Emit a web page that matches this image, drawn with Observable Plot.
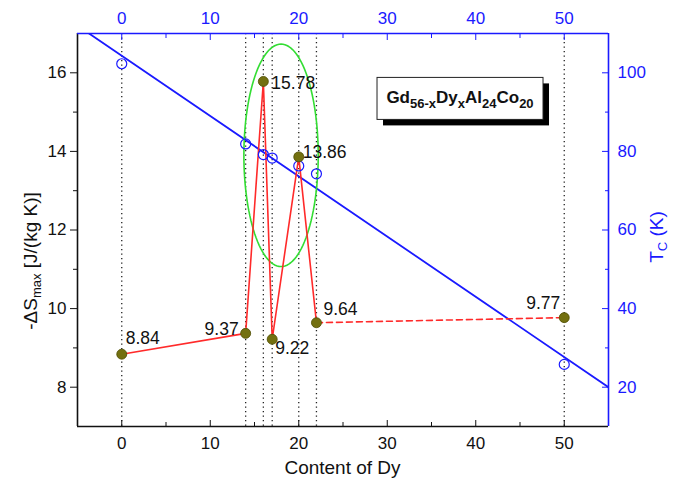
<!DOCTYPE html>
<html><head><meta charset="utf-8">
<script src="https://cdn.jsdelivr.net/npm/d3@7"></script>
<script src="https://cdn.jsdelivr.net/npm/@observablehq/plot@0.6"></script>
<style>
body{margin:0;background:#fff;}
#chart{width:683px;height:486px;}
</style></head><body><div id="chart"></div>
<script>
// ---- data ----
const dyContent = [0, 14, 16, 17, 20, 22, 50];
const deltaS = [8.84, 9.37, 15.78, 9.22, 13.86, 9.64, 9.77];
const curieT = [102.3, 81.9, 79.2, 78.3, 76.3, 74.3, 25.8];
const fitX = [-5, 55];
const fitT = [112.0, 20.0];
const ellipseParams = {cx: 18, cy: 13.9, rx: 4.2, ry: 2.83};
const xDomain = [-5, 55];
const yDomain = [7, 17];
const leftTicks = [8, 10, 12, 14, 16];
const leftMinor = [9, 11, 13, 15];
const bottomTicks = [0, 10, 20, 30, 40, 50];
const bottomMinor = [5, 15, 25, 35, 45];
const rightTicks = [20, 40, 60, 80, 100];
const rightMinor = [30, 50, 70, 90];

// ---- helpers ----
const tcToS = t => (t + 60) / 10;   // right axis T_C (K) -> left axis units
const sToTc = s => Math.round(s * 10 - 60);
const BLUE = "#1a1aff";
const RED = "#ff2a2a";
const FONT = "'Liberation Sans', Arial, sans-serif";

const pts = dyContent.map((x, i) => ({x, s: deltaS[i], tc: tcToS(curieT[i]), label: deltaS[i].toFixed(2)}));
const solidPts = pts.slice(0, 6);
const dashPts = pts.slice(5);
const fitPts = fitX.map((x, i) => ({x, s: tcToS(fitT[i])}));
const ell = d3.range(0, 361, 3).map(a => ({
  x: ellipseParams.cx + ellipseParams.rx * Math.cos(a * Math.PI / 180),
  s: ellipseParams.cy + ellipseParams.ry * Math.sin(a * Math.PI / 180)
}));

const labelStyle = [
  {anchor: "start", dx: 4, dy: -16},
  {anchor: "end", dx: -7, dy: -4},
  {anchor: "start", dx: 8, dy: 2},
  {anchor: "start", dx: 3, dy: 9},
  {anchor: "start", dx: 4, dy: -5},
  {anchor: "start", dx: 7, dy: -13},
  {anchor: "end", dx: -4, dy: -14}
];
const labelMarks = pts.map((p, i) => Plot.text([p], {
  x: "x", y: "s", text: "label", textAnchor: labelStyle[i].anchor,
  dx: labelStyle[i].dx, dy: labelStyle[i].dy, fill: "#111", fontSize: 17.5
}));

const plot = Plot.plot({
  width: 683, height: 486,
  marginLeft: 77, marginRight: 75, marginTop: 33, marginBottom: 60,
  style: {fontSize: "17px", fontFamily: FONT, background: "#fff", color: "#111"},
  x: {domain: xDomain},
  y: {domain: yDomain},
  marks: [
    Plot.ruleX(dyContent, {stroke: "#222", strokeWidth: 1.3, strokeDasharray: "1.3,3.2"}),
    Plot.line(fitPts, {x: "x", y: "s", stroke: BLUE, strokeWidth: 1.8, clip: true}),
    Plot.line(ell, {x: "x", y: "s", stroke: "#33dd33", strokeWidth: 1.6}),
    Plot.line(solidPts, {x: "x", y: "s", stroke: RED, strokeWidth: 1.6}),
    Plot.line(dashPts, {x: "x", y: "s", stroke: RED, strokeWidth: 1.6, strokeDasharray: "6,4"}),
    Plot.dot(pts, {x: "x", y: "tc", r: 5, stroke: BLUE, strokeWidth: 1.2, fill: "none"}),
    Plot.dot(pts, {x: "x", y: "s", r: 5, fill: "#737010", stroke: "#4e4c00", strokeWidth: 0.8}),
    ...labelMarks,
    // left axis (black, outward ticks)
    Plot.axisY({anchor: "left", ticks: leftTicks, tickSize: 7, tickPadding: 4, label: null, fontSize: 17}),
    Plot.axisY({anchor: "left", ticks: leftMinor, tickSize: 4, tickFormat: () => "", label: null}),
    // bottom axis (black, inward ticks)
    Plot.axisX({anchor: "bottom", ticks: bottomTicks, tickSize: -6, tickPadding: 16, label: null, fontSize: 17}),
    Plot.axisX({anchor: "bottom", ticks: bottomMinor, tickSize: -4, tickFormat: () => "", label: null}),
    // top axis (blue, inward ticks)
    Plot.axisX({anchor: "top", ticks: bottomTicks, tickSize: -6, tickPadding: 16, label: null, color: BLUE, fontSize: 17}),
    Plot.axisX({anchor: "top", ticks: bottomMinor, tickSize: -4, tickFormat: () => "", label: null, color: BLUE}),
    // right axis (blue, T_C, inward ticks)
    Plot.axisY({anchor: "right", ticks: rightTicks.map(tcToS), tickFormat: sToTc, tickSize: -7, tickPadding: 16, label: null, color: BLUE, fontSize: 17}),
    Plot.axisY({anchor: "right", ticks: rightMinor.map(tcToS), tickFormat: () => "", tickSize: -4, label: null, color: BLUE}),
    // frame
    Plot.ruleX([xDomain[0]], {stroke: "#111", strokeWidth: 1.6}),
    Plot.ruleY([yDomain[0]], {stroke: "#111", strokeWidth: 1.6}),
    Plot.ruleX([xDomain[1]], {stroke: BLUE, strokeWidth: 1.6}),
    Plot.ruleY([yDomain[1]], {stroke: BLUE, strokeWidth: 1.6})
  ]
});

const svg = d3.select(plot);
const xs = plot.scale("x"), ys = plot.scale("y");

// axis titles with subscripts
const lt = svg.append("text").attr("transform", "translate(37,261) rotate(-90)")
  .attr("text-anchor", "middle").attr("font-size", 19).attr("font-family", FONT).attr("fill", "#111");
lt.append("tspan").text("-ΔS");
lt.append("tspan").text("max").attr("font-size", 13).attr("dy", 4);
lt.append("tspan").text(" [J/(kg K)]").attr("dy", -4);

const rt = svg.append("text").attr("transform", "translate(663,237) rotate(-90)")
  .attr("text-anchor", "middle").attr("font-size", 19).attr("font-family", FONT).attr("fill", BLUE);
rt.append("tspan").text("T");
rt.append("tspan").text("C").attr("font-size", 13).attr("dy", 4);
rt.append("tspan").text(" (K)").attr("dy", -4);

svg.append("text").attr("x", (xs.apply(xDomain[0]) + xs.apply(xDomain[1])) / 2).attr("y", 474)
  .attr("text-anchor", "middle").attr("font-size", 19).attr("font-family", FONT).attr("fill", "#111")
  .text("Content of Dy");

// composition box
const bx = xs.apply(28.9), by = ys.apply(15.87), bw = 166, bh = 42;
svg.append("rect").attr("x", bx + 6).attr("y", by + 6).attr("width", bw).attr("height", bh).attr("fill", "#000");
svg.append("rect").attr("x", bx).attr("y", by).attr("width", bw).attr("height", bh)
  .attr("fill", "#fff").attr("stroke", "#222").attr("stroke-width", 1);
const bt = svg.append("text").attr("x", bx + bw / 2).attr("y", by + 26).attr("text-anchor", "middle")
  .attr("font-size", 17).attr("font-weight", "bold").attr("font-family", FONT).attr("fill", "#111");
[["Gd", "56-x"], ["Dy", "x"], ["Al", "24"], ["Co", "20"]].forEach(([el, sub], i) => {
  bt.append("tspan").text(el).attr("dy", i === 0 ? 0 : -5).attr("font-size", 17);
  bt.append("tspan").text(sub).attr("font-size", 13).attr("dy", 5);
});

document.getElementById("chart").appendChild(plot);
</script></body></html>
